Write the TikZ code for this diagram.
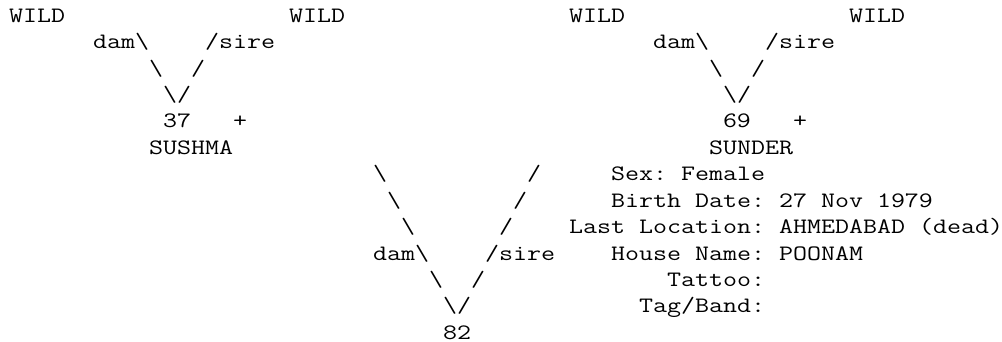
\documentclass[tikz,border=0pt]{standalone}
\usepackage{fontspec}
\usepackage{graphicx}
\newlength\cwidth
\newcommand\asciisize{\ttfamily\fontsize{16.5pt}{19.8pt}\selectfont\frenchspacing}
\tikzset{
  txt/.style={inner sep=0pt, outer sep=0pt, anchor=base west,
    font=\asciisize, text=black}
}
\newcommand\bs{\textbackslash}
% \putc{name}{column}{row}{text}
\newcommand\putc[4]{\node[txt] (#1) at ({9+14*#2},{-22.3-26.42*#3}) {\scalebox{\xs}[1]{#4}};}
\begin{document}
\settowidth\cwidth{\asciisize M}
\pgfmathsetmacro\xs{10.5/\cwidth}
\begin{tikzpicture}[x=0.75pt,y=0.75pt]
\useasboundingbox (0,0) rectangle (1002,-342);
% row 0
\putc{w1}{0}{0}{WILD}
\putc{w2}{20}{0}{WILD}
\putc{w3}{40}{0}{WILD}
\putc{w4}{60}{0}{WILD}
% row 1
\putc{da1}{6}{1}{dam\bs}
\putc{si1}{14}{1}{/sire}
\putc{da2}{46}{1}{dam\bs}
\putc{si2}{54}{1}{/sire}
% row 2
\putc{l2a}{10}{2}{\bs}
\putc{r2a}{13}{2}{/}
\putc{l2b}{50}{2}{\bs}
\putc{r2b}{53}{2}{/}
% row 3
\putc{v3a}{11}{3}{\bs/}
\putc{v3b}{51}{3}{\bs/}
% row 4
\putc{n37}{11}{4}{37}
\putc{p37}{16}{4}{+}
\putc{n69}{51}{4}{69}
\putc{p69}{56}{4}{+}
% row 5
\putc{sushma}{10}{5}{SUSHMA}
\putc{sunder}{50}{5}{SUNDER}
% row 6
\putc{l6}{26}{6}{\bs}
\putc{r6}{37}{6}{/}
\putc{sex}{43}{6}{Sex: Female}
% row 7
\putc{l7}{27}{7}{\bs}
\putc{r7}{36}{7}{/}
\putc{birth}{43}{7}{Birth Date: 27 Nov 1979}
% row 8
\putc{l8}{28}{8}{\bs}
\putc{r8}{35}{8}{/}
\putc{loc}{40}{8}{Last Location: AHMEDABAD (dead)}
% row 9
\putc{da3}{26}{9}{dam\bs}
\putc{si3}{34}{9}{/sire}
\putc{house}{43}{9}{House Name: POONAM}
% row 10
\putc{l10}{30}{10}{\bs}
\putc{r10}{33}{10}{/}
\putc{tattoo}{47}{10}{Tattoo:}
% row 11
\putc{v11}{31}{11}{\bs/}
\putc{tag}{45}{11}{Tag/Band:}
% row 12
\putc{n82}{31}{12}{82}
\end{tikzpicture}
\end{document}
